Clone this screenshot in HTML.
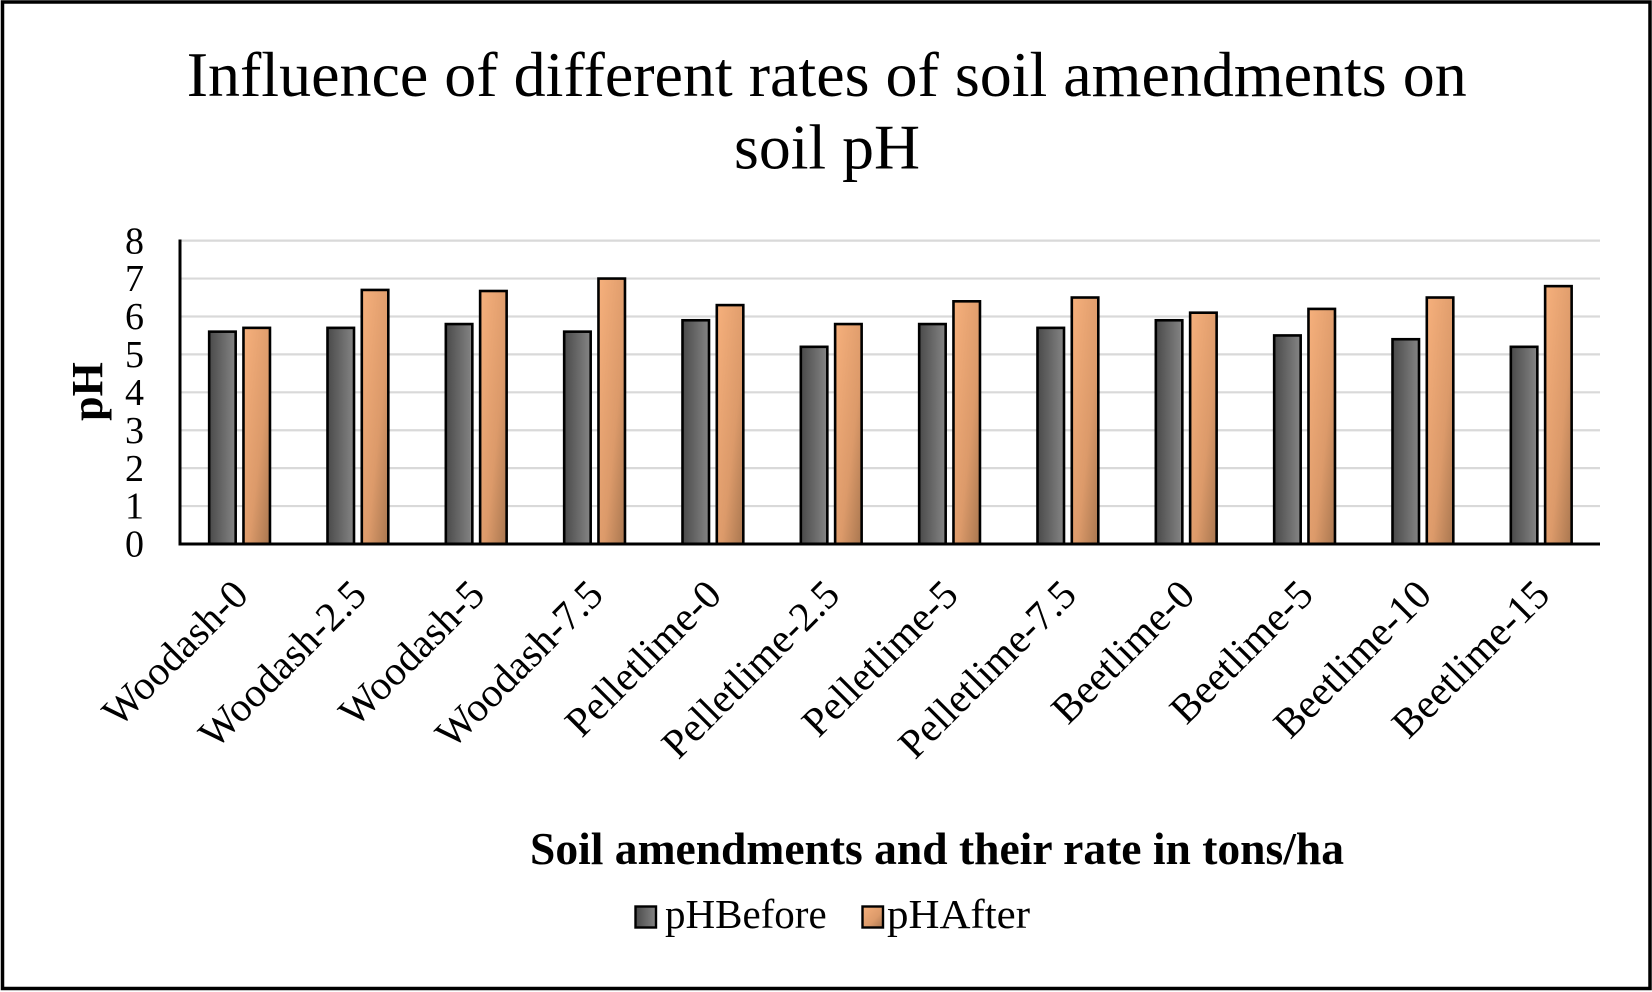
<!DOCTYPE html>
<html>
<head>
<meta charset="utf-8">
<style>
  html, body { margin: 0; padding: 0; background: #ffffff; }
  svg { display: block; }
</style>
</head>
<body>
<svg width="1652" height="992" viewBox="0 0 1652 992" xmlns="http://www.w3.org/2000/svg">
  <defs>
    <linearGradient id="gGray" x1="0" y1="0" x2="1" y2="0">
      <stop offset="0" stop-color="#4a4a4a"/>
      <stop offset="1" stop-color="#858585"/>
    </linearGradient>
    <linearGradient id="gOrange" x1="0" y1="0" x2="1" y2="1">
      <stop offset="0" stop-color="#f6b07c"/>
      <stop offset="0.6" stop-color="#dc9a6a"/>
      <stop offset="1" stop-color="#a8764f"/>
    </linearGradient>
  </defs>

  <rect x="0" y="0" width="1652" height="992" fill="#ffffff"/>
  <!-- outer border -->
  <rect x="2.5" y="2" width="1647.5" height="986.5" fill="none" stroke="#000" stroke-width="3.5"/>

  <!-- title -->
  <g font-family="'Liberation Serif', 'Times New Roman', serif" fill="#000">
    <text x="186.7" y="96" font-size="64" textLength="1280" lengthAdjust="spacingAndGlyphs">Influence of different rates of soil amendments on</text>
    <text x="734" y="168.6" font-size="64" textLength="186" lengthAdjust="spacingAndGlyphs">soil pH</text>
  </g>

  <!-- gridlines -->
  <g stroke="#d9d9d9" stroke-width="2.2">
    <line x1="180" y1="506.08" x2="1600" y2="506.08"/>
    <line x1="180" y1="468.16" x2="1600" y2="468.16"/>
    <line x1="180" y1="430.24" x2="1600" y2="430.24"/>
    <line x1="180" y1="392.32" x2="1600" y2="392.32"/>
    <line x1="180" y1="354.4" x2="1600" y2="354.4"/>
    <line x1="180" y1="316.48" x2="1600" y2="316.48"/>
    <line x1="180" y1="278.56" x2="1600" y2="278.56"/>
    <line x1="180" y1="240.64" x2="1600" y2="240.64"/>
  </g>

  <!-- bars: pHBefore -->
  <g fill="url(#gGray)" stroke="#000" stroke-width="2.6">
    <rect x="209.17" y="331.65" width="26.5" height="212.35"/>
    <rect x="327.5" y="327.86" width="26.5" height="216.14"/>
    <rect x="445.83" y="324.06" width="26.5" height="219.94"/>
    <rect x="564.17" y="331.65" width="26.5" height="212.35"/>
    <rect x="682.5" y="320.27" width="26.5" height="223.73"/>
    <rect x="800.83" y="346.82" width="26.5" height="197.18"/>
    <rect x="919.17" y="324.06" width="26.5" height="219.94"/>
    <rect x="1037.5" y="327.86" width="26.5" height="216.14"/>
    <rect x="1155.83" y="320.27" width="26.5" height="223.73"/>
    <rect x="1274.17" y="335.44" width="26.5" height="208.56"/>
    <rect x="1392.5" y="339.23" width="26.5" height="204.77"/>
    <rect x="1510.83" y="346.82" width="26.5" height="197.18"/>
  </g>
  <!-- bars: pHAfter -->
  <g fill="url(#gOrange)" stroke="#000" stroke-width="2.6">
    <rect x="243.47" y="327.86" width="26.5" height="216.14"/>
    <rect x="361.8" y="289.94" width="26.5" height="254.06"/>
    <rect x="480.13" y="291.0" width="26.5" height="253.0"/>
    <rect x="598.47" y="278.56" width="26.5" height="265.44"/>
    <rect x="716.8" y="305.1" width="26.5" height="238.9"/>
    <rect x="835.13" y="324.06" width="26.5" height="219.94"/>
    <rect x="953.47" y="301.31" width="26.5" height="242.69"/>
    <rect x="1071.8" y="297.52" width="26.5" height="246.48"/>
    <rect x="1190.13" y="312.69" width="26.5" height="231.31"/>
    <rect x="1308.47" y="308.9" width="26.5" height="235.1"/>
    <rect x="1426.8" y="297.52" width="26.5" height="246.48"/>
    <rect x="1545.13" y="286.14" width="26.5" height="257.86"/>
  </g>

  <!-- axes -->
  <line x1="180" y1="239.5" x2="180" y2="545.5" stroke="#000" stroke-width="3"/>
  <line x1="178.5" y1="544" x2="1600" y2="544" stroke="#000" stroke-width="3"/>

  <!-- y tick labels -->
  <g font-family="'Liberation Serif', 'Times New Roman', serif" font-size="38" fill="#000" text-anchor="end">
    <text x="144" y="556.6">0</text>
    <text x="144" y="518.7">1</text>
    <text x="144" y="480.8">2</text>
    <text x="144" y="442.8">3</text>
    <text x="144" y="404.9">4</text>
    <text x="144" y="367.0">5</text>
    <text x="144" y="329.1">6</text>
    <text x="144" y="291.2">7</text>
    <text x="144" y="253.3">8</text>
  </g>

  <!-- y axis title -->
  <text transform="translate(102,391.5) rotate(-90)" text-anchor="middle" font-family="'Liberation Serif', 'Times New Roman', serif" font-weight="bold" font-size="44" fill="#000">pH</text>

  <!-- x category labels -->
  <g font-family="'Liberation Serif', 'Times New Roman', serif" font-size="41" fill="#000" text-anchor="end">
    <text transform="translate(250.2,597) rotate(-45)">Woodash-0</text>
    <text transform="translate(368.5,597) rotate(-45)">Woodash-2.5</text>
    <text transform="translate(486.8,597) rotate(-45)">Woodash-5</text>
    <text transform="translate(605.2,597) rotate(-45)">Woodash-7.5</text>
    <text transform="translate(723.5,597) rotate(-45)">Pelletlime-0</text>
    <text transform="translate(841.8,597) rotate(-45)">Pelletlime-2.5</text>
    <text transform="translate(960.2,597) rotate(-45)">Pelletlime-5</text>
    <text transform="translate(1078.5,597) rotate(-45)">Pelletlime-7.5</text>
    <text transform="translate(1196.8,597) rotate(-45)">Beetlime-0</text>
    <text transform="translate(1315.2,597) rotate(-45)">Beetlime-5</text>
    <text transform="translate(1433.5,597) rotate(-45)">Beetlime-10</text>
    <text transform="translate(1551.8,597) rotate(-45)">Beetlime-15</text>
  </g>

  <!-- x axis title -->
  <text x="530" y="864" font-family="'Liberation Serif', 'Times New Roman', serif" font-weight="bold" font-size="46" fill="#000" textLength="814" lengthAdjust="spacingAndGlyphs">Soil amendments and their rate in tons/ha</text>

  <!-- legend -->
  <rect x="635.5" y="906.5" width="20.5" height="21" fill="url(#gGray)" stroke="#000" stroke-width="2.4"/>
  <text x="665" y="928" font-family="'Liberation Serif', 'Times New Roman', serif" font-size="41" fill="#000">pHBefore</text>
  <rect x="862.5" y="906.5" width="20.5" height="21" fill="url(#gOrange)" stroke="#000" stroke-width="2.4"/>
  <text x="887" y="928" font-family="'Liberation Serif', 'Times New Roman', serif" font-size="41" fill="#000" textLength="143" lengthAdjust="spacingAndGlyphs">pHAfter</text>
</svg>
</body>
</html>
